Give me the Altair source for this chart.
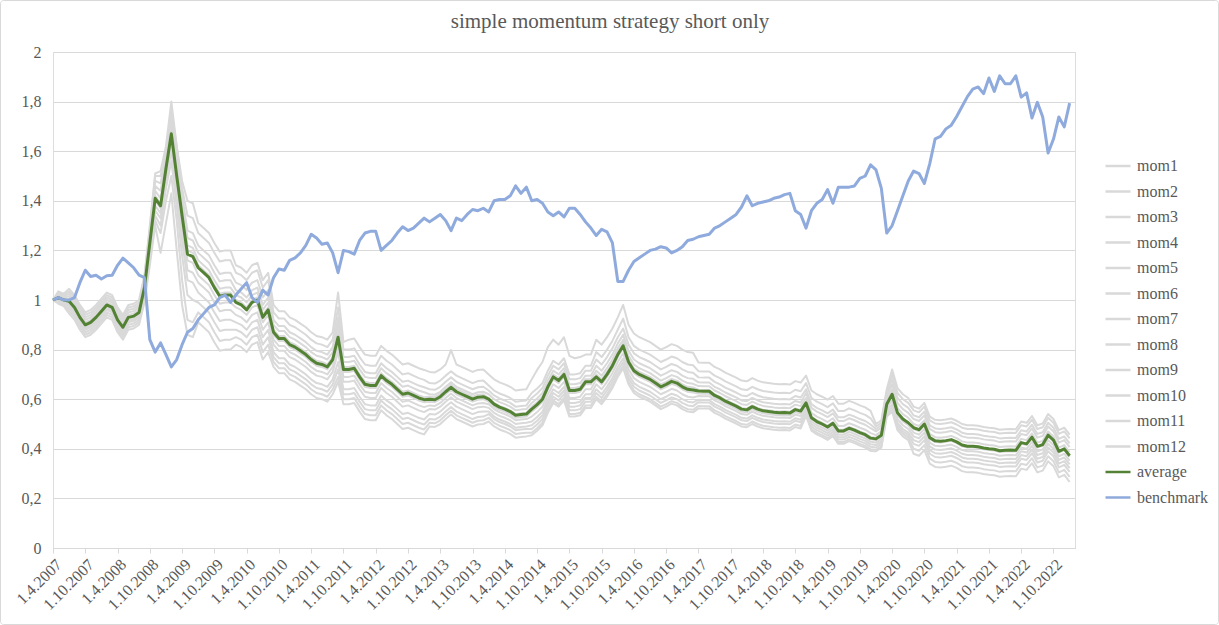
import altair as alt
import pandas as pd

TITLE = "simple momentum strategy short only"

TICK_LABELS = [
    "1.4.2007", "1.10.2007", "1.4.2008", "1.10.2008", "1.4.2009", "1.10.2009",
    "1.4.2010", "1.10.2010", "1.4.2011", "1.10.2011", "1.4.2012", "1.10.2012",
    "1.4.2013", "1.10.2013", "1.4.2014", "1.10.2014", "1.4.2015", "1.10.2015",
    "1.4.2016", "1.10.2016", "1.4.2017", "1.10.2017", "1.4.2018", "1.10.2018",
    "1.4.2019", "1.10.2019", "1.4.2020", "1.10.2020", "1.4.2021", "1.10.2021",
    "1.4.2022", "1.10.2022",
]
Y_TICKS = [0, 0.2, 0.4, 0.6, 0.8, 1.0, 1.2, 1.4, 1.6, 1.8, 2.0]

AVERAGE = [
    1.00, 1.01, 1.00, 0.995, 0.97, 0.93, 0.90, 0.91, 0.93, 0.955, 0.98, 0.97, 0.92, 0.89, 0.93, 0.935, 0.95,
    1.05, 1.23, 1.41, 1.38, 1.53, 1.67, 1.50, 1.34, 1.185, 1.175,
    1.13, 1.11, 1.09, 1.05, 1.015, 1.02, 1.02,
    0.99, 0.98, 0.96, 0.99, 1.00, 0.93, 0.96,
    0.87, 0.845, 0.845, 0.82, 0.81, 0.795, 0.78, 0.76, 0.745, 0.74, 0.73, 0.76,
    0.85, 0.72,
    0.72, 0.725, 0.69, 0.66, 0.655, 0.655, 0.695, 0.675, 0.66, 0.64, 0.62, 0.625, 0.615, 0.605, 0.598,
    0.60, 0.598, 0.61, 0.63, 0.648, 0.63, 0.62, 0.61, 0.60, 0.608, 0.61,
    0.60, 0.58, 0.568, 0.56, 0.55, 0.535, 0.538, 0.54,
    0.56, 0.578, 0.60, 0.65, 0.69, 0.675, 0.70, 0.635, 0.635, 0.64, 0.67, 0.67,
    0.69, 0.67, 0.70, 0.735, 0.78, 0.815, 0.75, 0.715, 0.70, 0.69, 0.68, 0.665, 0.65, 0.66, 0.672, 0.665, 0.65, 0.64, 0.637,
    0.633, 0.632, 0.632, 0.615, 0.605, 0.592, 0.582, 0.572, 0.56, 0.557, 0.57, 0.56, 0.553, 0.55, 0.547, 0.545, 0.546, 0.544, 0.558, 0.552,
    0.585, 0.525, 0.51, 0.50, 0.488, 0.503, 0.472, 0.472, 0.483, 0.475, 0.465, 0.457, 0.443,
    0.44, 0.455, 0.58,
    0.62, 0.545, 0.52, 0.505,
    0.485, 0.477, 0.50, 0.445, 0.432, 0.43, 0.433, 0.437, 0.428, 0.415, 0.41, 0.41, 0.408, 0.403, 0.40,
    0.398, 0.392, 0.394, 0.395, 0.394, 0.425, 0.42, 0.447, 0.41, 0.417, 0.455, 0.435, 0.39, 0.40, 0.372,
]

BENCHMARK = [
    1.00, 1.01, 1.00, 1.00, 1.01, 1.07, 1.12, 1.095, 1.10, 1.085, 1.098, 1.10, 1.14, 1.169, 1.15, 1.13, 1.10,
    1.09, 0.84, 0.79, 0.827, 0.78, 0.73, 0.76, 0.82, 0.87, 0.885,
    0.92, 0.945, 0.97, 0.98, 1.01, 1.02, 0.99,
    1.02, 1.045, 1.07, 1.01, 0.99, 1.04, 1.02,
    1.09, 1.125, 1.12, 1.16, 1.17, 1.19, 1.22, 1.265, 1.25, 1.225, 1.23, 1.19,
    1.11, 1.20,
    1.195, 1.185, 1.24, 1.27, 1.277, 1.277, 1.20, 1.22, 1.24, 1.27, 1.295, 1.28, 1.29, 1.31, 1.33,
    1.315, 1.33, 1.345, 1.32, 1.28, 1.33, 1.32, 1.345, 1.365, 1.36, 1.37,
    1.355, 1.40, 1.405, 1.405, 1.42, 1.46, 1.43, 1.455,
    1.40, 1.405, 1.39, 1.355, 1.34, 1.355, 1.335, 1.37, 1.37, 1.345, 1.315, 1.29,
    1.26, 1.285, 1.275, 1.23, 1.075, 1.075, 1.12, 1.155, 1.17, 1.185, 1.20, 1.205, 1.215, 1.21, 1.19, 1.20, 1.215, 1.24, 1.245,
    1.255, 1.26, 1.265, 1.29, 1.30, 1.315, 1.33, 1.345, 1.375, 1.42, 1.38, 1.39, 1.395, 1.40, 1.41, 1.415, 1.425, 1.43, 1.36, 1.345,
    1.29, 1.36, 1.39, 1.405, 1.445, 1.39, 1.455, 1.455, 1.455, 1.46, 1.49, 1.50, 1.545,
    1.525, 1.45, 1.27,
    1.30, 1.36, 1.42, 1.48,
    1.52, 1.51, 1.47, 1.55, 1.65, 1.66, 1.69, 1.705, 1.74, 1.78, 1.82, 1.85, 1.859, 1.832, 1.895,
    1.841, 1.904, 1.872, 1.872, 1.904, 1.818, 1.835, 1.734, 1.797, 1.738, 1.593, 1.649, 1.738, 1.698, 1.794,
]

MOM1 = [
    1.00, 1.035, 1.025,
    1.045, 1.02, 0.98, 0.95, 0.96, 0.98, 1.005, 1.03, 1.02, 0.97, 0.94, 0.98, 0.985, 1.00,
    1.10, 1.30, 1.51, 1.52, 1.62, 1.80, 1.62, 1.48, 1.40, 1.39,
    1.31, 1.29, 1.27, 1.23, 1.195, 1.20, 1.20,
    1.14, 1.13, 1.11, 1.14, 1.15, 1.08, 1.11,
    0.98, 0.955, 0.955, 0.93, 0.92, 0.905, 0.89, 0.87, 0.855, 0.85, 0.84, 0.87,
    1.03, 0.83,
    0.84, 0.845, 0.81, 0.78, 0.775, 0.775, 0.815, 0.795, 0.78, 0.76, 0.74, 0.745, 0.735, 0.725, 0.718,
    0.71, 0.708, 0.72, 0.74, 0.798, 0.74, 0.73, 0.72, 0.71, 0.718, 0.72,
    0.70, 0.68, 0.668, 0.66, 0.65, 0.635, 0.638, 0.64,
    0.68, 0.718, 0.75, 0.81, 0.84, 0.82, 0.85, 0.775, 0.765, 0.77, 0.78, 0.78,
    0.84, 0.82, 0.85, 0.885, 0.93, 0.98, 0.90, 0.865, 0.85, 0.84, 0.83, 0.815, 0.80, 0.81, 0.822, 0.815, 0.80, 0.79, 0.787,
    0.748, 0.747, 0.747, 0.73, 0.72, 0.707, 0.697, 0.687, 0.675, 0.672, 0.685, 0.675, 0.668, 0.665, 0.662, 0.66, 0.661, 0.659, 0.673, 0.667,
    0.695, 0.635, 0.62, 0.61, 0.598, 0.613, 0.582, 0.582, 0.593, 0.585, 0.575, 0.567, 0.553,
    0.50, 0.515, 0.64,
    0.72, 0.645, 0.62, 0.605,
    0.57, 0.562, 0.585, 0.53, 0.517, 0.515, 0.518, 0.522, 0.513, 0.50, 0.495, 0.495, 0.493, 0.488, 0.485,
    0.483, 0.477, 0.479, 0.48, 0.479, 0.51, 0.505, 0.532, 0.495, 0.502, 0.54, 0.52, 0.475, 0.485, 0.457,
]
MOM2 = [
    1.00, 1.03, 1.02,
    1.035, 1.01, 0.97, 0.94, 0.95, 0.97, 0.995, 1.02, 1.01, 0.96, 0.93, 0.97, 0.975, 0.99,
    1.09, 1.29, 1.50, 1.50, 1.60, 1.77, 1.62, 1.45, 1.34, 1.33,
    1.27, 1.25, 1.23, 1.19, 1.155, 1.16, 1.16,
    1.11, 1.10, 1.08, 1.11, 1.12, 1.05, 1.08,
    0.95, 0.925, 0.925, 0.90, 0.89, 0.875, 0.86, 0.84, 0.825, 0.82, 0.81, 0.84,
    0.97, 0.80,
    0.80, 0.805, 0.77, 0.74, 0.735, 0.735, 0.775, 0.755, 0.74, 0.72, 0.70, 0.705, 0.695, 0.685, 0.678,
    0.665, 0.663, 0.675, 0.695, 0.713, 0.695, 0.685, 0.675, 0.665, 0.673, 0.675,
    0.655, 0.635, 0.623, 0.615, 0.605, 0.59, 0.593, 0.595,
    0.625, 0.643, 0.665, 0.715, 0.755, 0.74, 0.765, 0.70, 0.70, 0.705, 0.735, 0.735,
    0.79, 0.77, 0.80, 0.835, 0.88, 0.925, 0.85, 0.815, 0.80, 0.79, 0.78, 0.765, 0.75, 0.76, 0.772, 0.765, 0.75, 0.74, 0.737,
    0.713, 0.712, 0.712, 0.695, 0.685, 0.672, 0.662, 0.652, 0.64, 0.637, 0.65, 0.64, 0.633, 0.63, 0.627, 0.625, 0.626, 0.624, 0.638, 0.632,
    0.665, 0.605, 0.59, 0.58, 0.568, 0.583, 0.552, 0.552, 0.563, 0.555, 0.545, 0.537, 0.523,
    0.49, 0.505, 0.63,
    0.70, 0.625, 0.60, 0.585,
    0.555, 0.547, 0.57, 0.515, 0.502, 0.50, 0.503, 0.507, 0.498, 0.485, 0.48, 0.48, 0.478, 0.473, 0.47,
    0.468, 0.462, 0.464, 0.465, 0.464, 0.495, 0.49, 0.517, 0.48, 0.487, 0.525, 0.505, 0.46, 0.47, 0.442,
]
MOM3 = [
    1.00, 1.025, 1.015,
    1.025, 1.00, 0.96, 0.93, 0.94, 0.96, 0.985, 1.01, 1.00, 0.95, 0.92, 0.96, 0.965, 0.98,
    1.08, 1.27, 1.48, 1.47, 1.58, 1.74, 1.58, 1.42, 1.28, 1.27,
    1.22, 1.20, 1.18, 1.14, 1.105, 1.11, 1.11,
    1.07, 1.06, 1.04, 1.07, 1.08, 1.01, 1.04,
    0.92, 0.895, 0.895, 0.87, 0.86, 0.845, 0.83, 0.81, 0.795, 0.79, 0.78, 0.81,
    0.93, 0.77,
    0.77, 0.775, 0.74, 0.71, 0.705, 0.705, 0.745, 0.725, 0.71, 0.69, 0.67, 0.675, 0.665, 0.655, 0.648,
    0.64, 0.638, 0.65, 0.67, 0.688, 0.67, 0.66, 0.65, 0.64, 0.648, 0.65,
    0.635, 0.615, 0.603, 0.595, 0.585, 0.57, 0.573, 0.575,
    0.605, 0.623, 0.645, 0.695, 0.735, 0.72, 0.745, 0.68, 0.68, 0.685, 0.715, 0.715,
    0.76, 0.74, 0.77, 0.805, 0.85, 0.885, 0.82, 0.785, 0.77, 0.76, 0.75, 0.735, 0.72, 0.73, 0.742, 0.735, 0.72, 0.71, 0.707,
    0.688, 0.687, 0.687, 0.67, 0.66, 0.647, 0.637, 0.627, 0.615, 0.612, 0.625, 0.615, 0.608, 0.605, 0.602, 0.60, 0.601, 0.599, 0.613, 0.607,
    0.64, 0.58, 0.565, 0.555, 0.543, 0.558, 0.527, 0.527, 0.538, 0.53, 0.52, 0.512, 0.498,
    0.48, 0.495, 0.62,
    0.68, 0.605, 0.58, 0.565,
    0.535, 0.527, 0.55, 0.495, 0.482, 0.48, 0.483, 0.487, 0.478, 0.465, 0.46, 0.46, 0.458, 0.453, 0.45,
    0.448, 0.442, 0.444, 0.445, 0.444, 0.475, 0.47, 0.497, 0.46, 0.467, 0.505, 0.485, 0.44, 0.45, 0.422,
]
MOM4 = [
    1.00, 1.02, 1.01,
    1.015, 0.99, 0.95, 0.92, 0.93, 0.95, 0.975, 1.00, 0.99, 0.94, 0.91, 0.95, 0.955, 0.97,
    1.07, 1.26, 1.46, 1.44, 1.57, 1.72, 1.56, 1.40, 1.25, 1.24,
    1.19, 1.17, 1.15, 1.11, 1.075, 1.08, 1.08,
    1.04, 1.03, 1.01, 1.04, 1.05, 0.98, 1.01,
    0.90, 0.875, 0.875, 0.85, 0.84, 0.825, 0.81, 0.79, 0.775, 0.77, 0.76, 0.79,
    0.90, 0.75,
    0.75, 0.755, 0.72, 0.69, 0.685, 0.685, 0.725, 0.705, 0.69, 0.67, 0.65, 0.655, 0.645, 0.635, 0.628,
    0.62, 0.618, 0.63, 0.65, 0.668, 0.65, 0.64, 0.63, 0.62, 0.628, 0.63,
    0.62, 0.60, 0.588, 0.58, 0.57, 0.555, 0.558, 0.56,
    0.585, 0.603, 0.625, 0.675, 0.715, 0.70, 0.725, 0.66, 0.66, 0.665, 0.695, 0.695,
    0.735, 0.715, 0.745, 0.78, 0.825, 0.86, 0.795, 0.76, 0.745, 0.735, 0.725, 0.71, 0.695, 0.705, 0.717, 0.71, 0.695, 0.685, 0.682,
    0.668, 0.667, 0.667, 0.65, 0.64, 0.627, 0.617, 0.607, 0.595, 0.592, 0.605, 0.595, 0.588, 0.585, 0.582, 0.58, 0.581, 0.579, 0.593, 0.587,
    0.625, 0.565, 0.55, 0.54, 0.528, 0.543, 0.512, 0.512, 0.523, 0.515, 0.505, 0.497, 0.483,
    0.47, 0.485, 0.61,
    0.66, 0.585, 0.56, 0.545,
    0.52, 0.512, 0.535, 0.48, 0.467, 0.465, 0.468, 0.472, 0.463, 0.45, 0.445, 0.445, 0.443, 0.438, 0.435,
    0.433, 0.427, 0.429, 0.43, 0.429, 0.46, 0.455, 0.482, 0.445, 0.452, 0.49, 0.47, 0.425, 0.435, 0.407,
]
MOM5 = [
    1.00, 1.015, 1.005,
    1.005, 0.98, 0.94, 0.91, 0.92, 0.94, 0.965, 0.99, 0.98, 0.93, 0.90, 0.94, 0.945, 0.96,
    1.06, 1.25, 1.44, 1.41, 1.55, 1.70, 1.53, 1.37, 1.22, 1.21,
    1.16, 1.14, 1.12, 1.08, 1.045, 1.05, 1.05,
    1.02, 1.01, 0.99, 1.02, 1.03, 0.96, 0.99,
    0.88, 0.855, 0.855, 0.83, 0.82, 0.805, 0.79, 0.77, 0.755, 0.75, 0.74, 0.77,
    0.87, 0.73,
    0.73, 0.735, 0.70, 0.67, 0.665, 0.665, 0.705, 0.685, 0.67, 0.65, 0.63, 0.635, 0.625, 0.615, 0.608,
    0.61, 0.608, 0.62, 0.64, 0.658, 0.64, 0.63, 0.62, 0.61, 0.618, 0.62,
    0.605, 0.585, 0.573, 0.565, 0.555, 0.54, 0.543, 0.545,
    0.57, 0.588, 0.61, 0.66, 0.70, 0.685, 0.71, 0.645, 0.645, 0.65, 0.68, 0.68,
    0.715, 0.695, 0.725, 0.76, 0.805, 0.84, 0.775, 0.74, 0.725, 0.715, 0.705, 0.69, 0.675, 0.685, 0.697, 0.69, 0.675, 0.665, 0.662,
    0.653, 0.652, 0.652, 0.635, 0.625, 0.612, 0.602, 0.592, 0.58, 0.577, 0.59, 0.58, 0.573, 0.57, 0.567, 0.565, 0.566, 0.564, 0.578, 0.572,
    0.605, 0.545, 0.53, 0.52, 0.508, 0.523, 0.492, 0.492, 0.503, 0.495, 0.485, 0.477, 0.463,
    0.455, 0.47, 0.595,
    0.64, 0.565, 0.54, 0.525,
    0.50, 0.492, 0.515, 0.46, 0.447, 0.445, 0.448, 0.452, 0.443, 0.43, 0.425, 0.425, 0.423, 0.418, 0.415,
    0.413, 0.407, 0.409, 0.41, 0.409, 0.44, 0.435, 0.462, 0.425, 0.432, 0.47, 0.45, 0.405, 0.415, 0.387,
]
MOM6 = [
    1.00, 1.005, 0.995,
    0.99, 0.965, 0.925, 0.895, 0.905, 0.925, 0.95, 0.975, 0.965, 0.915, 0.885, 0.925, 0.93, 0.945,
    1.05, 1.23, 1.42, 1.39, 1.54, 1.68, 1.51, 1.35, 1.20, 1.19,
    1.14, 1.12, 1.10, 1.06, 1.025, 1.03, 1.03,
    1.00, 0.99, 0.97, 1.00, 1.01, 0.94, 0.97,
    0.86, 0.835, 0.835, 0.81, 0.80, 0.785, 0.77, 0.75, 0.735, 0.73, 0.72, 0.75,
    0.85, 0.71,
    0.71, 0.715, 0.68, 0.65, 0.645, 0.645, 0.685, 0.665, 0.65, 0.63, 0.61, 0.615, 0.605, 0.595, 0.588,
    0.59, 0.588, 0.60, 0.62, 0.638, 0.62, 0.61, 0.60, 0.59, 0.598, 0.60,
    0.59, 0.57, 0.558, 0.55, 0.54, 0.525, 0.528, 0.53,
    0.55, 0.568, 0.59, 0.64, 0.68, 0.665, 0.69, 0.625, 0.625, 0.63, 0.66, 0.66,
    0.70, 0.68, 0.71, 0.745, 0.79, 0.825, 0.76, 0.725, 0.71, 0.70, 0.69, 0.675, 0.66, 0.67, 0.682, 0.675, 0.66, 0.65, 0.647,
    0.638, 0.637, 0.637, 0.62, 0.61, 0.597, 0.587, 0.577, 0.565, 0.562, 0.575, 0.565, 0.558, 0.555, 0.552, 0.55, 0.551, 0.549, 0.563, 0.557,
    0.59, 0.53, 0.515, 0.505, 0.493, 0.508, 0.477, 0.477, 0.488, 0.48, 0.47, 0.462, 0.448,
    0.445, 0.46, 0.585,
    0.615, 0.54, 0.515, 0.50,
    0.48, 0.472, 0.495, 0.44, 0.427, 0.425, 0.428, 0.432, 0.423, 0.41, 0.405, 0.405, 0.403, 0.398, 0.395,
    0.393, 0.387, 0.389, 0.39, 0.389, 0.42, 0.415, 0.442, 0.405, 0.412, 0.45, 0.43, 0.385, 0.395, 0.367,
]
MOM7 = [
    1.00, 1.005, 0.995,
    0.985, 0.96, 0.92, 0.89, 0.90, 0.92, 0.945, 0.97, 0.96, 0.91, 0.88, 0.92, 0.925, 0.94,
    1.04, 1.22, 1.40, 1.37, 1.52, 1.66, 1.49, 1.32, 1.16, 1.15,
    1.10, 1.08, 1.06, 1.02, 0.985, 0.99, 0.99,
    0.97, 0.96, 0.94, 0.97, 0.98, 0.91, 0.94,
    0.84, 0.815, 0.815, 0.79, 0.78, 0.765, 0.75, 0.73, 0.715, 0.71, 0.70, 0.73,
    0.82, 0.69,
    0.69, 0.695, 0.66, 0.63, 0.625, 0.625, 0.665, 0.645, 0.63, 0.61, 0.59, 0.595, 0.585, 0.575, 0.568,
    0.575, 0.573, 0.585, 0.605, 0.623, 0.605, 0.595, 0.585, 0.575, 0.583, 0.585,
    0.58, 0.56, 0.548, 0.54, 0.53, 0.515, 0.518, 0.52,
    0.53, 0.548, 0.57, 0.62, 0.66, 0.645, 0.67, 0.605, 0.605, 0.61, 0.64, 0.64,
    0.68, 0.66, 0.69, 0.725, 0.77, 0.805, 0.74, 0.705, 0.69, 0.68, 0.67, 0.655, 0.64, 0.65, 0.662, 0.655, 0.64, 0.63, 0.627,
    0.623, 0.622, 0.622, 0.605, 0.595, 0.582, 0.572, 0.562, 0.55, 0.547, 0.56, 0.55, 0.543, 0.54, 0.537, 0.535, 0.536, 0.534, 0.548, 0.542,
    0.58, 0.52, 0.505, 0.495, 0.483, 0.498, 0.467, 0.467, 0.478, 0.47, 0.46, 0.452, 0.438,
    0.435, 0.45, 0.575,
    0.61, 0.535, 0.51, 0.495,
    0.465, 0.457, 0.48, 0.425, 0.412, 0.41, 0.413, 0.417, 0.408, 0.395, 0.39, 0.39, 0.388, 0.383, 0.38,
    0.378, 0.372, 0.374, 0.375, 0.374, 0.405, 0.40, 0.427, 0.39, 0.397, 0.435, 0.415, 0.37, 0.38, 0.352,
]
MOM8 = [
    1.00, 1.002, 0.992,
    0.98, 0.955, 0.915, 0.885, 0.895, 0.915, 0.94, 0.965, 0.955, 0.905, 0.875, 0.915, 0.92, 0.935,
    1.03, 1.20, 1.38, 1.35, 1.50, 1.64, 1.46, 1.29, 1.12, 1.11,
    1.07, 1.05, 1.03, 0.99, 0.955, 0.96, 0.96,
    0.94, 0.93, 0.91, 0.94, 0.95, 0.88, 0.91,
    0.82, 0.795, 0.795, 0.77, 0.76, 0.745, 0.73, 0.71, 0.695, 0.69, 0.68, 0.71,
    0.79, 0.67,
    0.67, 0.675, 0.64, 0.61, 0.605, 0.605, 0.645, 0.625, 0.61, 0.59, 0.57, 0.575, 0.565, 0.555, 0.548,
    0.56, 0.558, 0.57, 0.59, 0.608, 0.59, 0.58, 0.57, 0.56, 0.568, 0.57,
    0.565, 0.545, 0.533, 0.525, 0.515, 0.50, 0.503, 0.505,
    0.51, 0.528, 0.55, 0.60, 0.64, 0.625, 0.65, 0.585, 0.585, 0.59, 0.62, 0.62,
    0.66, 0.64, 0.67, 0.705, 0.75, 0.785, 0.72, 0.685, 0.67, 0.66, 0.65, 0.635, 0.62, 0.63, 0.642, 0.635, 0.62, 0.61, 0.607,
    0.613, 0.612, 0.612, 0.595, 0.585, 0.572, 0.562, 0.552, 0.54, 0.537, 0.55, 0.54, 0.533, 0.53, 0.527, 0.525, 0.526, 0.524, 0.538, 0.532,
    0.57, 0.51, 0.495, 0.485, 0.473, 0.488, 0.457, 0.457, 0.468, 0.46, 0.45, 0.442, 0.428,
    0.425, 0.44, 0.565,
    0.595, 0.52, 0.495, 0.48,
    0.45, 0.442, 0.465, 0.41, 0.397, 0.395, 0.398, 0.402, 0.393, 0.38, 0.375, 0.375, 0.373, 0.368, 0.365,
    0.363, 0.357, 0.359, 0.36, 0.359, 0.39, 0.385, 0.412, 0.375, 0.382, 0.42, 0.40, 0.355, 0.365, 0.337,
]
MOM9 = [
    1.00, 1.00, 0.99,
    0.975, 0.95, 0.91, 0.88, 0.89, 0.91, 0.935, 0.96, 0.95, 0.90, 0.87, 0.91, 0.915, 0.93,
    1.02, 1.19, 1.36, 1.33, 1.48, 1.60, 1.42, 1.24, 1.08, 1.07,
    1.03, 1.01, 0.99, 0.95, 0.915, 0.92, 0.92,
    0.91, 0.90, 0.88, 0.91, 0.92, 0.85, 0.88,
    0.79, 0.765, 0.765, 0.74, 0.73, 0.715, 0.70, 0.68, 0.665, 0.66, 0.65, 0.68,
    0.75, 0.64,
    0.64, 0.645, 0.61, 0.58, 0.575, 0.575, 0.615, 0.595, 0.58, 0.56, 0.54, 0.545, 0.535, 0.525, 0.518,
    0.54, 0.538, 0.55, 0.57, 0.588, 0.57, 0.56, 0.55, 0.54, 0.548, 0.55,
    0.55, 0.53, 0.518, 0.51, 0.50, 0.485, 0.488, 0.49,
    0.495, 0.513, 0.535, 0.585, 0.625, 0.61, 0.635, 0.57, 0.57, 0.575, 0.605, 0.605,
    0.64, 0.62, 0.65, 0.685, 0.73, 0.765, 0.70, 0.665, 0.65, 0.64, 0.63, 0.615, 0.60, 0.61, 0.622, 0.615, 0.60, 0.59, 0.587,
    0.598, 0.597, 0.597, 0.58, 0.57, 0.557, 0.547, 0.537, 0.525, 0.522, 0.535, 0.525, 0.518, 0.515, 0.512, 0.51, 0.511, 0.509, 0.523, 0.517,
    0.56, 0.50, 0.485, 0.475, 0.463, 0.478, 0.447, 0.447, 0.458, 0.45, 0.44, 0.432, 0.418,
    0.415, 0.43, 0.555,
    0.58, 0.505, 0.48, 0.465,
    0.435, 0.427, 0.45, 0.395, 0.382, 0.38, 0.383, 0.387, 0.378, 0.365, 0.36, 0.36, 0.358, 0.353, 0.35,
    0.348, 0.342, 0.344, 0.345, 0.344, 0.375, 0.37, 0.397, 0.36, 0.367, 0.405, 0.385, 0.34, 0.35, 0.322,
]
MOM10 = [
    1.00, 0.995, 0.985,
    0.965, 0.94, 0.90, 0.87, 0.88, 0.90, 0.925, 0.95, 0.94, 0.89, 0.86, 0.90, 0.905, 0.92,
    1.01, 1.17, 1.34, 1.30, 1.45, 1.56, 1.38, 1.18, 1.02, 1.00,
    0.99, 0.97, 0.95, 0.91, 0.875, 0.88, 0.88,
    0.88, 0.87, 0.85, 0.88, 0.89, 0.82, 0.85,
    0.77, 0.745, 0.745, 0.72, 0.71, 0.695, 0.68, 0.66, 0.645, 0.64, 0.63, 0.66,
    0.72, 0.62,
    0.62, 0.625, 0.59, 0.56, 0.555, 0.555, 0.595, 0.575, 0.56, 0.54, 0.52, 0.525, 0.515, 0.505, 0.498,
    0.52, 0.518, 0.53, 0.55, 0.568, 0.55, 0.54, 0.53, 0.52, 0.528, 0.53,
    0.54, 0.52, 0.508, 0.50, 0.49, 0.475, 0.478, 0.48,
    0.48, 0.498, 0.52, 0.57, 0.61, 0.595, 0.62, 0.555, 0.555, 0.56, 0.59, 0.59,
    0.625, 0.605, 0.635, 0.67, 0.715, 0.75, 0.685, 0.65, 0.635, 0.625, 0.615, 0.60, 0.585, 0.595, 0.607, 0.60, 0.585, 0.575, 0.572,
    0.588, 0.587, 0.587, 0.57, 0.56, 0.547, 0.537, 0.527, 0.515, 0.512, 0.525, 0.515, 0.508, 0.505, 0.502, 0.50, 0.501, 0.499, 0.513, 0.507,
    0.55, 0.49, 0.475, 0.465, 0.453, 0.468, 0.437, 0.437, 0.448, 0.44, 0.43, 0.422, 0.408,
    0.405, 0.42, 0.545,
    0.57, 0.495, 0.47, 0.455,
    0.42, 0.412, 0.435, 0.38, 0.367, 0.365, 0.368, 0.372, 0.363, 0.35, 0.345, 0.345, 0.343, 0.338, 0.335,
    0.333, 0.327, 0.329, 0.33, 0.329, 0.36, 0.355, 0.382, 0.345, 0.352, 0.39, 0.37, 0.325, 0.335, 0.307,
]
MOM11 = [
    1.00, 0.99, 0.98,
    0.955, 0.93, 0.89, 0.86, 0.87, 0.89, 0.915, 0.94, 0.93, 0.88, 0.85, 0.89, 0.895, 0.91,
    1.00, 1.16, 1.32, 1.27, 1.40, 1.50, 1.32, 1.08, 0.92, 0.91,
    0.95, 0.93, 0.91, 0.87, 0.835, 0.84, 0.84,
    0.85, 0.84, 0.82, 0.85, 0.86, 0.79, 0.82,
    0.75, 0.725, 0.725, 0.70, 0.69, 0.675, 0.66, 0.64, 0.625, 0.62, 0.61, 0.64,
    0.69, 0.60,
    0.60, 0.605, 0.57, 0.54, 0.535, 0.535, 0.575, 0.555, 0.54, 0.52, 0.50, 0.505, 0.495, 0.485, 0.478,
    0.505, 0.503, 0.515, 0.535, 0.553, 0.535, 0.525, 0.515, 0.505, 0.513, 0.515,
    0.525, 0.505, 0.493, 0.485, 0.475, 0.46, 0.463, 0.465,
    0.465, 0.483, 0.505, 0.555, 0.595, 0.58, 0.605, 0.54, 0.54, 0.545, 0.575, 0.575,
    0.61, 0.59, 0.62, 0.655, 0.70, 0.735, 0.67, 0.635, 0.62, 0.61, 0.60, 0.585, 0.57, 0.58, 0.592, 0.585, 0.57, 0.56, 0.557,
    0.573, 0.572, 0.572, 0.555, 0.545, 0.532, 0.522, 0.512, 0.50, 0.497, 0.51, 0.50, 0.493, 0.49, 0.487, 0.485, 0.486, 0.484, 0.498, 0.492,
    0.54, 0.48, 0.465, 0.455, 0.443, 0.458, 0.427, 0.427, 0.438, 0.43, 0.42, 0.412, 0.398,
    0.395, 0.41, 0.535,
    0.56, 0.485, 0.46, 0.445,
    0.40, 0.392, 0.415, 0.36, 0.347, 0.345, 0.348, 0.352, 0.343, 0.33, 0.325, 0.325, 0.323, 0.318, 0.315,
    0.313, 0.307, 0.309, 0.31, 0.309, 0.34, 0.335, 0.362, 0.325, 0.332, 0.37, 0.35, 0.305, 0.315, 0.287,
]
MOM12 = [
    1.00, 0.985, 0.975,
    0.945, 0.92, 0.88, 0.85, 0.86, 0.88, 0.905, 0.93, 0.92, 0.87, 0.84, 0.88, 0.885, 0.90,
    0.99, 1.14, 1.30, 1.19, 1.31, 1.43, 1.20, 0.98, 0.86, 0.85,
    0.91, 0.89, 0.87, 0.83, 0.795, 0.80, 0.80,
    0.82, 0.81, 0.79, 0.82, 0.83, 0.76, 0.79,
    0.73, 0.705, 0.705, 0.68, 0.67, 0.655, 0.64, 0.62, 0.605, 0.60, 0.59, 0.62,
    0.67, 0.58,
    0.58, 0.585, 0.55, 0.52, 0.515, 0.515, 0.555, 0.535, 0.52, 0.50, 0.48, 0.485, 0.475, 0.465, 0.458,
    0.49, 0.488, 0.50, 0.52, 0.538, 0.52, 0.51, 0.50, 0.49, 0.498, 0.50,
    0.51, 0.49, 0.478, 0.47, 0.46, 0.445, 0.448, 0.45,
    0.455, 0.473, 0.495, 0.545, 0.585, 0.57, 0.595, 0.53, 0.53, 0.535, 0.565, 0.565,
    0.60, 0.58, 0.61, 0.645, 0.69, 0.725, 0.66, 0.625, 0.61, 0.60, 0.59, 0.575, 0.56, 0.57, 0.582, 0.575, 0.56, 0.55, 0.547,
    0.563, 0.562, 0.562, 0.545, 0.535, 0.522, 0.512, 0.502, 0.49, 0.487, 0.50, 0.49, 0.483, 0.48, 0.477, 0.475, 0.476, 0.474, 0.488, 0.482,
    0.533, 0.473, 0.458, 0.448, 0.436, 0.451, 0.42, 0.42, 0.431, 0.423, 0.413, 0.405, 0.391,
    0.39, 0.405, 0.53,
    0.55, 0.475, 0.45, 0.435,
    0.38, 0.372, 0.395, 0.34, 0.327, 0.325, 0.328, 0.332, 0.323, 0.31, 0.305, 0.305, 0.303, 0.298, 0.295,
    0.293, 0.287, 0.289, 0.29, 0.289, 0.32, 0.315, 0.342, 0.305, 0.312, 0.35, 0.33, 0.285, 0.295, 0.267,
]

MOM = [MOM1, MOM2, MOM3, MOM4, MOM5, MOM6, MOM7, MOM8, MOM9, MOM10, MOM11, MOM12]
MOM_NAMES = [f"mom{i}" for i in range(1, 13)]
SERIES = MOM_NAMES + ["average", "benchmark"]
COLORS = ["#d9d9d9"] * 12 + ["#548235", "#8faadc"]

N = len(AVERAGE)
for name, vals in zip(SERIES, MOM + [AVERAGE, BENCHMARK]):
    if len(vals) != N:
        raise ValueError(f"{name} has {len(vals)} points, expected {N}")


def frame(pairs):
    rows = []
    for name, vals in pairs:
        for t, v in enumerate(vals):
            rows.append({"t": t, "value": v, "series": name})
    return pd.DataFrame(rows)


gray_df = frame(zip(MOM_NAMES, MOM))
avg_df = frame([("average", AVERAGE)])
bench_df = frame([("benchmark", BENCHMARK)])

FONT = "Liberation Serif"
TEXT = "#595959"
label_js = "[" + ",".join(f"'{s}'" for s in TICK_LABELS) + "]"

x_enc = alt.X(
    "t:Q",
    scale=alt.Scale(domain=[0, N], nice=False, zero=False),
    axis=alt.Axis(
        values=list(range(0, 6 * len(TICK_LABELS), 6)),
        labelExpr=f"{label_js}[round(datum.value / 6)]",
        labelAngle=-45,
        labelFont=FONT, labelFontSize=16, labelColor=TEXT,
        grid=False, domainColor="#d9d9d9", tickColor="#d9d9d9",
        tickSize=5, labelPadding=3, title=None, labelOverlap=False,
    ),
)
y_enc = alt.Y(
    "value:Q",
    scale=alt.Scale(domain=[0, 2], nice=False),
    axis=alt.Axis(
        values=Y_TICKS,
        labelExpr="replace(format(datum.value, '~g'), '.', ',')",
        labelFont=FONT, labelFontSize=16, labelColor=TEXT,
        gridColor="#d9d9d9", domain=False, ticks=False,
        labelPadding=12, title=None,
    ),
)
legend = alt.Legend(
    title=None, orient="none", legendX=1051, legendY=100,
    symbolType="stroke", symbolSize=625, symbolStrokeWidth=2.5,
    labelFont=FONT, labelFontSize=16,
    labelColor=TEXT, labelOffset=5, rowPadding=3.5, padding=0,
)
color = alt.Color("series:N", scale=alt.Scale(domain=SERIES, range=COLORS), legend=legend)


def layer(df, width):
    return alt.Chart(df).mark_line(strokeJoin="round", strokeWidth=width).encode(
        x=x_enc, y=y_enc, color=color, detail="series:N"
    )


border = alt.Chart(pd.DataFrame({"b": [0]})).mark_rect(
    fillOpacity=0, stroke="#d9d9d9", strokeWidth=1, cornerRadius=3
).encode(
    x=alt.value(-52.5), x2=alt.value(1165.5), y=alt.value(-51.5), y2=alt.value(572.5)
)

chart = alt.layer(
    layer(gray_df, 2), layer(avg_df, 3), layer(bench_df, 3), border
).properties(
    width=1022,
    height=496,
    title=alt.TitleParams(
        TITLE, font=FONT, fontSize=21, fontWeight="normal", color=TEXT,
        anchor="middle", offset=-32, dx=46,
    ),
    padding={"left": 53, "top": 52, "right": 144, "bottom": 77},
    autosize=alt.AutoSizeParams(type="none"),
).configure_view(stroke=None).configure(background="white")

chart.save("out.html", embed_options={"renderer": "svg", "actions": False})
